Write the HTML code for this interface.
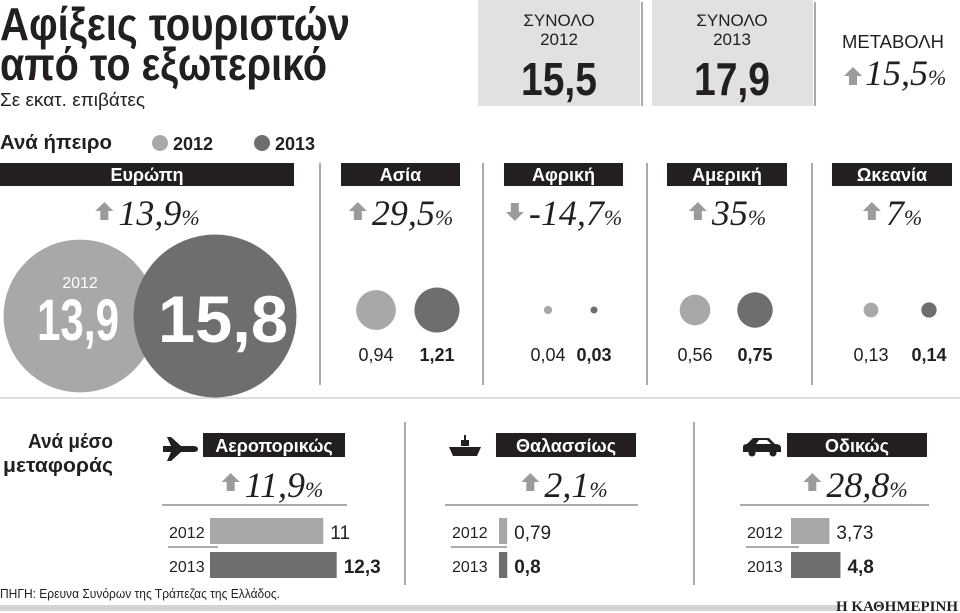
<!DOCTYPE html>
<html><head><meta charset="utf-8"><style>
html,body{margin:0;padding:0;background:#fff;width:960px;height:613px;overflow:hidden}
svg{display:block;font-family:"Liberation Sans Narrow","Liberation Sans",sans-serif}
.hdr{fill:#231f20}.ht{fill:#fff;font-weight:bold;font-size:18px;text-anchor:middle}
.pct{font-family:"Liberation Serif",serif;font-style:italic;font-size:36px;fill:#231f20}
.ps{font-size:22px}
.val{font-size:18px;fill:#231f20;text-anchor:middle}
.yr{font-size:16px;fill:#231f20}
</style></head><body>
<svg id="chart" width="960" height="613" viewBox="0 0 960 613">
<text x="0" y="40" font-size="46" font-weight="bold" fill="#231f20" textLength="350" lengthAdjust="spacingAndGlyphs">Αφίξεις τουριστών</text>
<text x="0" y="80" font-size="46" font-weight="bold" fill="#231f20" textLength="327" lengthAdjust="spacingAndGlyphs">από το εξωτερικό</text>
<text x="0" y="106" font-size="18" fill="#231f20" textLength="145" lengthAdjust="spacingAndGlyphs">Σε εκατ. επιβάτες</text>

<rect x="478" y="0" width="162" height="106" fill="#e1e1e1"/>
<rect x="652" y="0" width="161" height="106" fill="#e1e1e1"/>
<line x1="642" y1="2" x2="642" y2="106" stroke="#555"/>
<line x1="815" y1="2" x2="815" y2="106" stroke="#555"/>
<g fill="#231f20" text-anchor="middle">
<text x="559" y="26" font-size="17">ΣΥΝΟΛΟ</text><text x="559" y="45" font-size="17">2012</text>
<text x="559" y="95" font-size="46" font-weight="bold" textLength="76" lengthAdjust="spacingAndGlyphs">15,5</text>
<text x="732" y="26" font-size="17">ΣΥΝΟΛΟ</text><text x="732" y="45" font-size="17">2013</text>
<text x="732" y="95" font-size="46" font-weight="bold" textLength="76" lengthAdjust="spacingAndGlyphs">17,9</text>
<text x="893" y="48" font-size="18" textLength="102" lengthAdjust="spacingAndGlyphs">ΜΕΤΑΒΟΛΗ</text>
</g>
<g id="chg-total"></g>

<text x="0" y="149" font-size="20" font-weight="bold" fill="#231f20" textLength="112" lengthAdjust="spacingAndGlyphs">Ανά ήπειρο</text>
<circle cx="160" cy="143" r="8" fill="#a7a8aa"/>
<text x="173" y="150" font-size="18" font-weight="bold" fill="#231f20">2012</text>
<circle cx="262" cy="143" r="8" fill="#6d6e70"/>
<text x="275" y="150" font-size="18" font-weight="bold" fill="#231f20">2013</text>

<g id="continents"></g>
<line x1="0" y1="398" x2="960" y2="398" stroke="#bbb"/>

<text x="113" y="448" font-size="20" font-weight="bold" fill="#231f20" text-anchor="end" textLength="85" lengthAdjust="spacingAndGlyphs">Ανά μέσο</text>
<text x="113" y="472" font-size="20" font-weight="bold" fill="#231f20" text-anchor="end" textLength="110" lengthAdjust="spacingAndGlyphs">μεταφοράς</text>
<g id="transport"></g>
<line x1="405" y1="422" x2="405" y2="585" stroke="#555"/>
<line x1="694" y1="422" x2="694" y2="585" stroke="#555"/>

<text x="0" y="598" font-size="13" fill="#231f20" textLength="280" lengthAdjust="spacingAndGlyphs">ΠΗΓΗ: Ερευνα Συνόρων της Τράπεζας της Ελλάδος.</text>
<rect x="0" y="605" width="840" height="6" fill="#d4d4d4"/>
<text x="958" y="611" font-size="15" font-weight="bold" font-family="Liberation Serif,serif" fill="#231f20" text-anchor="end">Η ΚΑΘΗΜΕΡΙΝΗ</text>
</svg>
<script>
const continents = ["Ευρώπη","Ασία","Αφρική","Αμερική","Ωκεανία"];
const cont2012 = [13.9, 0.94, 0.04, 0.56, 0.13];
const cont2013 = [15.8, 1.21, 0.03, 0.75, 0.14];
const contChange = ["13,9","29,5","-14,7","35","7"];
const modes = ["Αεροπορικώς","Θαλασσίως","Οδικώς"];
const mode2012 = [11, 0.79, 3.73];
const mode2013 = [12.3, 0.8, 4.8];
const modeChange = ["11,9","2,1","28,8"];
const totalChange = "15,5";

const NS="http://www.w3.org/2000/svg";
function mk(p,tag,attrs,txt){const e=document.createElementNS(NS,tag);for(const k in attrs)e.setAttribute(k,attrs[k]);if(txt!==undefined)e.textContent=txt;p.appendChild(e);return e;}
const fmt=v=>String(v).replace('.',',');
const rScale=v=>20.5*Math.sqrt(v);
const xBar=v=>10.3*v;

function arrow(p,x,y,down){
  const pts=down?`${x},${y+14} ${x-9},${y+5} ${x-4},${y+5} ${x-4},${y-4} ${x+4},${y-4} ${x+4},${y+5} ${x+9},${y+5}`
                :`${x},${y-5} ${x-9},${y+4} ${x-4},${y+4} ${x-4},${y+13} ${x+4},${y+13} ${x+4},${y+4} ${x+9},${y+4}`;
  const a=mk(p,'polygon',{points:pts,fill:'#9a9b9d'});
  
  
}
function pctText(p,x,y,s,anchor){
  const t=mk(p,'text',{x:x,y:y,class:'pct','text-anchor':anchor||'start'});
  mk(t,'tspan',{},s);mk(t,'tspan',{class:'ps'},'%');
  
  
  return t;
}
const tc=document.getElementById('chg-total');
arrow(tc,853,72,false);pctText(tc,865,85,totalChange);

const cg=document.getElementById('continents');
const hdrX=[[0,294],[341,460],[504,623],[667,787],[832,952]];
const cCx=[[80,215],[376,437],[548,594],[695,755],[871,929]];
const divX=[320,483,647,812];
divX.forEach(x=>mk(cg,'line',{x1:x,y1:163,x2:x,y2:385,stroke:'#555'}));
continents.forEach((n,i)=>{
  const [x0,x1]=hdrX[i];
  const h=mk(cg,'rect',{x:x0,y:163,width:x1-x0,height:23,class:'hdr'});
  
  
  mk(cg,'text',{x:(x0+x1)/2,y:181,class:'ht'},n);
  const down=contChange[i].startsWith('-');
  const mid=(x0+x1)/2;
  const t=pctText(cg,mid+12,225,contChange[i],'middle');
  const w=t.getComputedTextLength?t.getComputedTextLength():60;
  arrow(cg,mid+12-w/2-14,207,down);
  const r1=rScale(cont2012[i]),r2=rScale(cont2013[i]);
  const cy=i===0?316:310;
  const c1=mk(cg,'circle',{cx:cCx[i][0],cy:cy,r:r1,fill:'#a7a8aa'});
  
  
  const c2=mk(cg,'circle',{cx:cCx[i][1],cy:cy,r:r2,fill:'#6d6e70'});
  
  
  if(i===0){
    mk(cg,'text',{x:cCx[0][0],y:288,'font-size':16,fill:'#fff','text-anchor':'middle'},'2012');
    mk(cg,'text',{x:cCx[0][0]-2,y:340,'font-size':58,fill:'#fff','text-anchor':'middle','font-weight':'bold',textLength:82,lengthAdjust:'spacingAndGlyphs'},fmt(cont2012[0]));
    mk(cg,'text',{x:cCx[0][1]+8,y:342,'font-size':66,'font-weight':'bold',fill:'#fff','text-anchor':'middle',textLength:130,lengthAdjust:'spacingAndGlyphs'},fmt(cont2013[0]));
  } else {
    mk(cg,'text',{x:cCx[i][0],y:361,class:'val'},fmt(cont2012[i]));
    mk(cg,'text',{x:cCx[i][1],y:361,class:'val','font-weight':'bold'},fmt(cont2013[i]));
  }
});

const tg=document.getElementById('transport');
const secX=[[162,405],[445,694],[740,960]];
const hdrT=[[203,345],[496,636],[787,927]];
const barX=[210,499,791];
modes.forEach((m,i)=>{
  const [h0,h1]=hdrT[i];
  const h=mk(tg,'rect',{x:h0,y:433,width:h1-h0,height:24,class:'hdr'});
  
  
  mk(tg,'text',{x:(h0+h1)/2,y:452,class:'ht'},m);
  const mid=(h0+h1)/2;
  const t=pctText(tg,mid+10,497,modeChange[i],'middle');
  const w=t.getComputedTextLength?t.getComputedTextLength():60;
  arrow(tg,mid+10-w/2-14,478,false);
  const lx=secX[i][0];
  mk(tg,'line',{x1:lx,y1:505,x2:hdrT[i][1]+2,y2:505,stroke:'#555'});
  mk(tg,'line',{x1:lx+6,y1:547,x2:barX[i]+8,y2:547,stroke:'#555'});
  mk(tg,'text',{x:lx+7,y:538,class:'yr'},'2012');
  mk(tg,'text',{x:lx+7,y:572,class:'yr'},'2013');
  const b1=mk(tg,'rect',{x:barX[i],y:518,width:xBar(mode2012[i]),height:26,fill:'#a7a8aa'});
  
  
  const b2=mk(tg,'rect',{x:barX[i],y:552,width:xBar(mode2013[i]),height:26,fill:'#6d6e70'});
  
  
  mk(tg,'text',{x:barX[i]+xBar(mode2012[i])+7,y:539,'font-size':19,fill:'#231f20'},fmt(mode2012[i]));
  mk(tg,'text',{x:barX[i]+xBar(mode2013[i])+7,y:573,'font-size':19,'font-weight':'bold',fill:'#231f20'},fmt(mode2013[i]));
});
const plane=mk(tg,'path',{d:'M163,446 h8 l-4,-9 h4 l10,9 h12 q5,0 5,3 q0,3 -5,3 h-12 l-10,9 h-4 l4,-9 h-8 z',fill:'#231f20'});


const ship=mk(tg,'path',{d:'M449,447 h32 l-4,9 h-24 z M461,440 h8 v6 h-8 z M464,435 h2 v5 h-2 z',fill:'#231f20'});


const car=mk(tg,'path',{d:'M743,452 v-5 q0,-3 4,-3 l6,-6 h16 l6,6 q6,0 6,4 v4 z',fill:'#231f20'});


mk(tg,'circle',{cx:752,cy:453,r:3.5,fill:'#231f20'});
mk(tg,'circle',{cx:773,cy:453,r:3.5,fill:'#231f20'});
mk(tg,'path',{d:'M756,444 l3,-4 h8 l4,4 z',fill:'#fff'});
</script>
</body></html>
